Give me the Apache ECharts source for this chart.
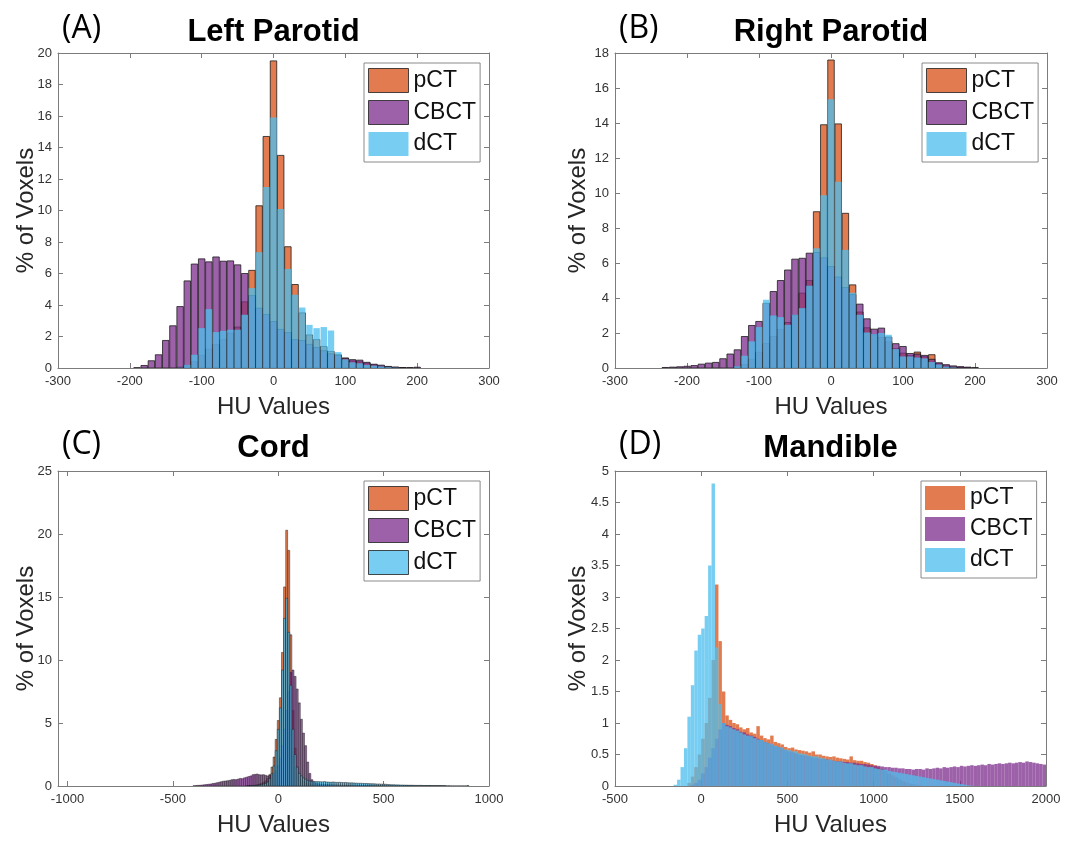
<!DOCTYPE html>
<html><head><meta charset="utf-8">
<script src="https://cdn.jsdelivr.net/npm/echarts/dist/echarts.min.js"></script>
<style>html,body{margin:0;padding:0;background:#fff}#c{width:1065px;height:843px}</style>
</head><body><div id="c"></div><script>
// ---------- data ----------
const seriesNames = ['pCT', 'CBCT', 'dCT'];
const panelTitles = ['Left Parotid', 'Right Parotid', 'Cord', 'Mandible'];
const panelLetters = ['(A)', '(B)', '(C)', '(D)'];
const xAxisName = 'HU Values';
const yAxisName = '% of Voxels';

// Left parotid: bins of 10 HU, first bin starts at -195 (centres -190 ... 200)
const lpBinStart = -195, lpBinWidth = 10;
const lpPCT = [0,0,0,0,0,0,0.05,0.15,0.4,0.8,
  1.2,1.5,1.8,2.2,2.6,4.2,6.2,10.3,14.7,19.5,
  13.5,7.7,5.3,3.5,2.1,1.8,1.37,1.05,0.84,0.63,
  0.45,0.4,0.3,0.2,0.12,0.07,0.04,0.02,0.01,0];
const lpCBCT = [0.02,0.16,0.46,0.84,1.75,2.68,3.9,5.53,6.6,6.93,
  6.74,7.05,6.78,6.8,6.55,6.0,4.6,3.8,3.4,2.95,
  2.45,2.25,1.8,1.75,1.5,1.3,1.1,0.9,0.8,0.62,
  0.53,0.5,0.36,0.24,0.18,0.1,0.06,0.03,0.01,0.05];
const lpDCT = [0,0,0,0,0,0,0.02,0.2,0.84,2.53,
  3.74,2.28,2.36,2.43,2.43,3.38,5.07,7.35,11.5,15.9,
  10.1,6.29,4.65,3.84,2.74,2.53,2.6,2.38,1.01,0.55,
  0.36,0.3,0.2,0.15,0.1,0.05,0.02,0,0,0];

// Right parotid: bins of 10 HU (centres -230 ... 200)
const rpBinStart = -235, rpBinWidth = 10;
const rpPCT = [0,0,0,0,0,0,0,0,0,0,
  0.05,0.2,0.5,0.9,1.4,1.8,2.2,2.6,3.0,4.28,
  5.0,8.93,13.9,17.6,13.95,8.84,4.75,3.2,2.3,1.9,
  1.75,1.5,1.1,0.85,0.7,0.91,0.65,0.76,0.25,0.12,
  0.06,0.03,0.01,0];
const rpCBCT = [0.03,0.05,0.07,0.1,0.14,0.22,0.28,0.32,0.53,0.8,
  1.04,1.8,2.43,2.66,3.7,4.37,5.0,5.6,6.22,6.27,
  6.56,6.6,6.3,5.8,5.2,4.6,4.2,3.65,2.81,2.22,
  2.28,1.77,1.39,1.23,0.83,0.8,0.72,0.5,0.3,0.19,
  0.12,0.08,0.05,0.03];
const rpDCT = [0,0,0,0,0,0,0,0,0,0,
  0.1,0.7,1.52,2.34,3.9,3.0,2.91,2.47,3.04,3.42,
  4.7,6.84,9.87,15.36,10.65,6.75,4.3,3.04,2.03,1.94,
  2.0,1.9,1.08,0.66,0.66,0.6,0.55,0.34,0.2,0.08,
  0.03,0,0,0];

// Cord: bins of 10 HU (centres -400 ... 900)
const cdBinStart = -405, cdBinWidth = 10;
const cdPCT = [0,0,0,0,0,0,0,0,0,0,
  0,0,0,0,0,0,0,0,0,0,
  0,0,0,0,0,0.02,0.03,0.04,0.05,0.07,
  0.1,0.15,0.2,0.3,0.4,0.6,0.9,1.5,2.3,3.7,
  5.2,7.0,10.6,15.8,20.3,18.7,12.0,6.0,3.0,1.5,
  0.8,0.5,0.35,0.25,0.2,0.15,0.12,0.1,0.1,0.09,
  0.08,0.08,0.07,0.07,0.06,0.06,0.05,0.05,0.05,0.04,
  0.04,0.04,0.03,0.03,0.03,0.03,0.02,0.02,0.02,0.02,
  0.02,0.02,0.01,0.01,0.01,0.01,0.01,0.01,0.01,0.01,
  0,0,0,0,0,0,0,0,0,0,
  0,0,0,0,0,0,0,0,0,0,
  0,0,0,0,0,0,0,0,0,0,
  0,0,0,0,0,0,0,0,0,0,
  0];
const cdCBCT = [0.02,0.03,0.05,0.06,0.08,0.1,0.12,0.14,0.16,0.2,
  0.22,0.26,0.3,0.34,0.38,0.4,0.42,0.45,0.5,0.52,
  0.5,0.55,0.6,0.58,0.65,0.7,0.75,0.8,0.9,0.92,
  0.95,0.9,0.88,0.9,0.85,0.8,0.85,0.9,1.0,1.2,
  1.6,2.2,3.2,4.5,6.0,7.5,9.0,9.2,8.7,7.7,
  6.6,5.3,4.2,3.2,1.9,1.0,0.5,0.3,0.22,0.18,
  0.15,0.14,0.13,0.12,0.11,0.1,0.1,0.09,0.09,0.08,
  0.08,0.07,0.07,0.06,0.06,0.06,0.05,0.05,0.05,0.05,
  0.04,0.04,0.04,0.04,0.03,0.03,0.03,0.03,0.03,0.03,
  0.02,0.02,0.02,0.02,0.02,0.02,0.02,0.02,0.02,0.02,
  0.02,0.02,0.02,0.01,0.01,0.01,0.01,0.01,0.01,0.01,
  0.01,0.01,0.01,0.01,0.01,0.01,0.01,0.01,0.01,0.01,
  0,0,0,0,0,0,0,0,0,0,
  0];
const cdDCT = [0,0,0,0,0,0,0,0,0,0,
  0,0,0,0,0,0,0,0,0,0,
  0,0,0,0,0,0,0.01,0.02,0.03,0.04,
  0.05,0.07,0.1,0.15,0.2,0.3,0.6,1.0,1.6,2.8,
  4.5,6.2,9.2,13.3,14.9,12.2,8.0,4.5,2.5,1.5,
  1.0,0.8,0.65,0.55,0.45,0.4,0.38,0.36,0.35,0.35,
  0.34,0.33,0.35,0.32,0.31,0.3,0.32,0.3,0.29,0.3,
  0.28,0.27,0.28,0.26,0.25,0.25,0.24,0.23,0.22,0.22,
  0.21,0.2,0.2,0.19,0.18,0.18,0.17,0.16,0.16,0.15,
  0.15,0.14,0.12,0.11,0.1,0.1,0.09,0.09,0.08,0.08,
  0.07,0.07,0.06,0.06,0.06,0.05,0.05,0.05,0.05,0.04,
  0.04,0.04,0.04,0.03,0.03,0.03,0.03,0.03,0.02,0.02,
  0.02,0.02,0.01,0.01,0.01,0.01,0.01,0.01,0.01,0.01,
  0.04];

// Mandible: bins of 20 HU (centres -150 ... 1990)
const mdBinStart = -160, mdBinWidth = 20;
const mdPCT = [0,0,0,0,0.05,0.15,0.3,0.5,0.75,1.0,
  1.4,2.0,3.2,2.3,1.5,1.12,1.05,1.0,0.98,0.93,
  0.9,0.92,0.85,0.83,0.95,0.8,0.76,0.74,0.8,0.7,
  0.68,0.66,0.62,0.6,0.61,0.58,0.57,0.56,0.55,0.53,
  0.55,0.5,0.5,0.48,0.47,0.46,0.47,0.45,0.44,0.43,
  0.42,0.47,0.41,0.4,0.4,0.38,0.37,0.35,0.33,0.3,
  0.27,0.24,0.2,0.17,0.14,0.11,0.08,0.06,0.04,0.03,
  0.02,0.01,0,0,0,0,0,0,0,0,
  0,0,0,0,0,0,0,0,0,0,
  0,0,0,0,0,0,0,0,0,0,
  0,0,0,0,0,0,0,0];
const mdCBCT = [0,0,0,0,0,0.02,0.05,0.1,0.2,0.3,
  0.45,0.6,0.75,0.9,1.0,0.97,0.95,0.92,0.9,0.86,
  0.85,0.82,0.8,0.78,0.75,0.73,0.7,0.68,0.66,0.63,
  0.62,0.6,0.57,0.55,0.54,0.52,0.5,0.49,0.48,0.47,
  0.45,0.45,0.43,0.43,0.42,0.41,0.4,0.39,0.39,0.38,
  0.38,0.37,0.37,0.36,0.35,0.35,0.34,0.33,0.32,0.32,
  0.31,0.3,0.3,0.29,0.29,0.28,0.28,0.27,0.27,0.26,
  0.27,0.27,0.26,0.28,0.27,0.28,0.29,0.28,0.3,0.29,
  0.3,0.31,0.3,0.32,0.31,0.32,0.33,0.32,0.33,0.34,
  0.33,0.35,0.34,0.35,0.36,0.35,0.36,0.37,0.36,0.37,
  0.38,0.37,0.39,0.38,0.37,0.36,0.35,0.34];
const mdDCT = [0.02,0.1,0.3,0.6,1.1,1.6,2.15,2.4,2.5,2.7,
  3.5,4.8,2.2,1.3,1.0,0.95,0.93,0.9,0.88,0.85,
  0.82,0.8,0.79,0.76,0.74,0.73,0.7,0.68,0.67,0.64,
  0.62,0.61,0.58,0.57,0.55,0.55,0.52,0.51,0.5,0.48,
  0.47,0.47,0.45,0.44,0.42,0.42,0.4,0.39,0.39,0.37,
  0.36,0.36,0.34,0.33,0.33,0.31,0.3,0.3,0.28,0.27,
  0.26,0.26,0.24,0.23,0.22,0.21,0.2,0.19,0.18,0.17,
  0.16,0.15,0.14,0.13,0.12,0.11,0.1,0.09,0.08,0.07,
  0.06,0.05,0.04,0.03,0.02,0.01,0.005,0,0,0,
  0,0,0,0,0,0,0,0,0,0,
  0,0,0,0,0,0,0,0];

// axis ranges
const xRanges = [[-300, 300, 100], [-300, 300, 100], [-1045, 1000, null], [-500, 2000, 500]];
const yRanges = [[0, 20, 2], [0, 18, 2], [0, 25, 5], [0, 5, 0.5]];

// ---------- styling / layout ----------
const FONT = '"Liberation Sans", Arial, Helvetica, sans-serif';
const fills = ['rgba(217,83,25,0.76)', 'rgba(126,47,142,0.76)', 'rgba(77,190,238,0.76)'];
const edge = 'rgba(25,25,25,0.78)';
const grids = [
  {left: 58, top: 53, width: 431, height: 315},
  {left: 615, top: 53, width: 432, height: 315},
  {left: 58, top: 471, width: 431, height: 315},
  {left: 615, top: 471, width: 431, height: 315}
];
const edgeWidths = [[1, 1, 0], [1, 1, 0], [0.6, 0.6, 0.6], [0, 0, 0]];
const barFrac = [0.9, 0.9, 0.9, 1.0];
const yNameGaps = [20, 25, 20, 25];
const panels = [
  {start: lpBinStart, w: lpBinWidth, vals: [lpPCT, lpCBCT, lpDCT]},
  {start: rpBinStart, w: rpBinWidth, vals: [rpPCT, rpCBCT, rpDCT]},
  {start: cdBinStart, w: cdBinWidth, vals: [cdPCT, cdCBCT, cdDCT]},
  {start: mdBinStart, w: mdBinWidth, vals: [mdPCT, mdCBCT, mdDCT]}
];
const axisColor = '#7c7c7c';
const labelColor = '#333';

function makeRender(binW, frac, fill, stroke, lw) {
  return function (params, api) {
    const x = api.value(0), y = api.value(1);
    if (!(y > 0)) return null;
    const p0 = api.coord([x - binW * frac / 2, y]);
    const p1 = api.coord([x + binW * frac / 2, 0]);
    return {
      type: 'rect',
      shape: {x: p0[0], y: p0[1], width: p1[0] - p0[0], height: p1[1] - p0[1]},
      style: lw > 0 ? {fill: fill, stroke: stroke, lineWidth: lw} : {fill: fill, stroke: null}
    };
  };
}

const option = {
  animation: false,
  backgroundColor: '#fff',
  grid: grids.map(g => Object.assign({containLabel: false}, g)),
  xAxis: [], yAxis: [], series: [], legend: [], graphic: []
};

const plainNum = v => String(v);

grids.forEach((g, i) => {
  const [xmin, xmax, xint] = xRanges[i];
  const [ymin, ymax, yint] = yRanges[i];
  const lineStyle = {color: axisColor, width: 1};
  const baseX = {
    gridIndex: i, type: 'value', min: xmin, max: xmax,
    splitLine: {show: false},
    axisLine: {show: true, onZero: false, lineStyle},
    axisTick: {show: true, inside: true, length: 5, lineStyle}
  };
  if (xint) baseX.interval = xint; else baseX.splitNumber = 5;
  option.xAxis.push(Object.assign({}, baseX, {
    position: 'bottom',
    axisLabel: {color: labelColor, fontSize: 13, fontFamily: FONT, margin: 7,
      showMinLabel: xint ? true : false, formatter: plainNum},
    name: xAxisName, nameLocation: 'middle', nameGap: 27, nameMoveOverlap: false,
    nameTextStyle: {fontSize: 24, color: '#262626', fontFamily: FONT}
  }));
  option.xAxis.push(Object.assign({}, baseX, {position: 'top', axisLabel: {show: false}}));
  const baseY = {
    gridIndex: i, type: 'value', min: ymin, max: ymax, interval: yint,
    splitLine: {show: false},
    axisLine: {show: true, onZero: false, lineStyle},
    axisTick: {show: true, inside: true, length: 5, lineStyle}
  };
  option.yAxis.push(Object.assign({}, baseY, {
    position: 'left',
    axisLabel: {color: labelColor, fontSize: 13, fontFamily: FONT, margin: 6, formatter: plainNum},
    name: yAxisName, nameLocation: 'middle', nameGap: yNameGaps[i], nameMoveOverlap: false,
    nameTextStyle: {fontSize: 24, color: '#262626', fontFamily: FONT}
  }));
  option.yAxis.push(Object.assign({}, baseY, {position: 'right', axisLabel: {show: false}}));

  const p = panels[i];
  seriesNames.forEach((name, s) => {
    const lw = edgeWidths[i][s];
    const data = p.vals[s].map((v, k) => [p.start + p.w * (k + 0.5), v]);
    option.series.push({
      type: 'custom', name: name,
      xAxisIndex: 2 * i, yAxisIndex: 2 * i,
      clip: true,
      itemStyle: {color: fills[s], borderColor: lw > 0 ? edge : 'transparent', borderWidth: lw},
      encode: {x: 0, y: 1},
      renderItem: makeRender(p.w, barFrac[i], fills[s], edge, lw),
      data: data
    });
  });

  option.legend.push({
    orient: 'vertical',
    left: g.left + g.width - 125, top: g.top + 10,
    itemWidth: 40, itemHeight: 24, itemGap: 7,
    padding: [5, 4, 6, 4],
    borderColor: '#8a8a8a', borderWidth: 1, borderRadius: 0,
    backgroundColor: '#fff',
    selectedMode: false,
    icon: 'rect',
    textStyle: {fontSize: 23, color: '#111', fontFamily: FONT},
    data: seriesNames.map((n, s) => ({
      name: n,
      itemStyle: {
        color: fills[s],
        borderColor: edgeWidths[i][s] > 0 ? edge : 'transparent',
        borderWidth: edgeWidths[i][s] > 0 ? 1 : 0
      }
    }))
  });

  const cx = g.left + g.width / 2;
  const ty = i < 2 ? 32 : 448;
  option.graphic.push({
    type: 'text', x: cx, y: ty,
    style: {text: panelTitles[i], fill: '#000', font: 'bold 31px ' + FONT, textAlign: 'center', textVerticalAlign: 'middle'}
  });
  option.graphic.push({
    type: 'text', x: g.left + 4, y: ty - 3,
    style: {text: panelLetters[i], fill: '#000', font: '32px "Open Sans", "Noto Sans", sans-serif', textAlign: 'left', textVerticalAlign: 'middle'}
  });
});

const chart = echarts.init(document.getElementById('c'), null, {renderer: 'canvas'});
chart.setOption(option);
</script></body></html>
